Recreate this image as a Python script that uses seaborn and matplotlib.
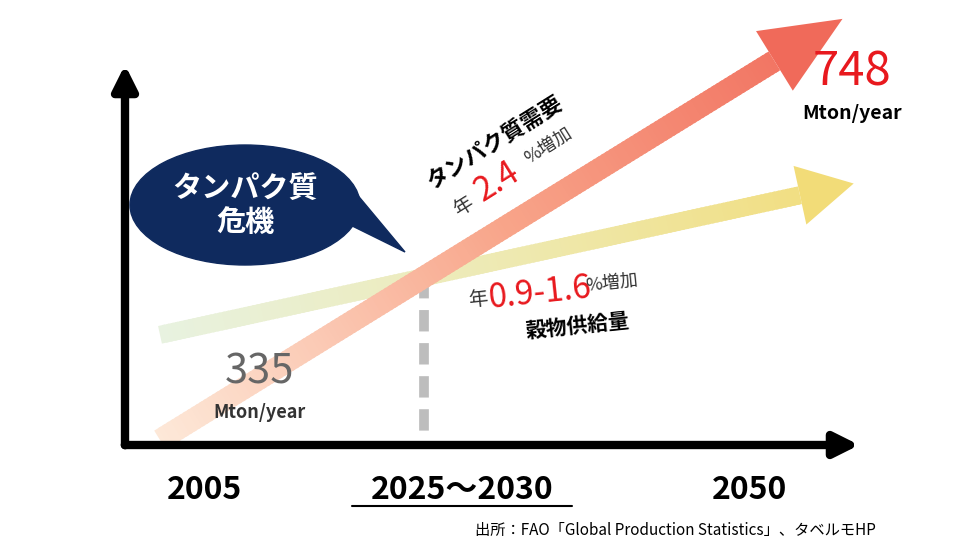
import numpy as np
import matplotlib
matplotlib.use("Agg")
import matplotlib.pyplot as plt
import seaborn as sns
from matplotlib.collections import LineCollection
from matplotlib.colors import LinearSegmentedColormap
from matplotlib.patches import Polygon, Ellipse

sns.set_theme(style="white")
plt.rcParams['font.family'] = ['Noto Sans CJK JP', 'DejaVu Sans']

# data
years = [2005, 2050]
protein_demand = [335, 748]      # Mton/year
grain_supply = [445, 591]        # relative level of supply trend
tick_labels = ["2005", "2025〜2030", "2050"]

fig = plt.figure(figsize=(9.8, 5.55), dpi=100)
ax = fig.add_axes([0, 0, 1, 1])
ax.set_xlim(1993.75, 2062.66)
ax.set_ylim(214.7, 795.2)
ax.axis("off")

def p2d(px, py):
    return ax.transData.inverted().transform((px, 555 - py))

def d2p(x, y):
    dx, dy = ax.transData.transform((x, y))
    return dx, 555 - dy

def grad_arrow(x0, y0, x1, y1, cmap, width_px, head_w, head_l, ext, headcol):
    p0 = np.array(d2p(x0, y0)); p1 = np.array(d2p(x1, y1))
    d = (p1 - p0) / np.linalg.norm(p1 - p0)
    tip = p1 + d * ext
    base = tip - d * head_l
    nrm = np.array([-d[1], d[0]])
    n = 150
    ts = np.linspace(0, 1, n + 1)
    for i in range(n):
        a = p0 + (base - p0) * ts[i]
        b = p0 + (base - p0) * min(ts[i + 1] + 0.004, 1)
        quad = [a + nrm * width_px / 2, b + nrm * width_px / 2,
                b - nrm * width_px / 2, a - nrm * width_px / 2]
        ax.add_patch(Polygon([p2d(*p) for p in quad], closed=True,
                             color=cmap(ts[i] * 0.9), lw=0, zorder=2))
    poly = [tip, base + nrm * head_w / 2, base - nrm * head_w / 2]
    ax.add_patch(Polygon([p2d(*p) for p in poly], closed=True, color=headcol, lw=0, zorder=2))

green = LinearSegmentedColormap.from_list("g", ["#e8f2e0", "#eee9b0", "#f2dc78"])
red = LinearSegmentedColormap.from_list("r", ["#fde8d8", "#f8a58a", "#f06a5a"])
grad_arrow(years[0], grain_supply[0], years[1], grain_supply[1], green, 18, 60, 55, 55, "#f2dc78")
grad_arrow(years[0], protein_demand[0], years[1], protein_demand[1], red, 22, 70, 80, 50, "#f06a5a")

# crossing point
sr = (protein_demand[1] - protein_demand[0]) / (years[1] - years[0])
sg = (grain_supply[1] - grain_supply[0]) / (years[1] - years[0])
xc = years[0] + (grain_supply[0] - protein_demand[0]) / (sr - sg)
yc = protein_demand[0] + sr * (xc - years[0])
ax.plot([xc, xc], [yc, p2d(0, 445)[1]], color="#bdbdbd", lw=7, ls=(0, (2.2, 1.2)), zorder=1)

# axes arrows
ax.annotate("", xy=p2d(125, 62), xytext=p2d(125, 448),
            arrowprops=dict(arrowstyle="-|>,head_length=1.2,head_width=0.6", color="black", lw=6))
ax.annotate("", xy=p2d(862, 445), xytext=p2d(122, 445),
            arrowprops=dict(arrowstyle="-|>,head_length=1.2,head_width=0.6", color="black", lw=6))

# speech bubble
cx, cy = p2d(245, 205)
w = abs(p2d(230, 0)[0] - p2d(0, 0)[0]); h = abs(p2d(0, 120)[1] - p2d(0, 0)[1])
ax.add_patch(Ellipse((cx, cy), w, h, color="#0f2a5e", zorder=5))
ax.add_patch(Polygon([p2d(330, 215), p2d(405, 252), p2d(345, 180)], color="#0f2a5e", zorder=5))
ax.text(*p2d(245, 205), "タンパク質\n危機", color="white", fontsize=21, fontweight="bold",
        ha="center", va="center", zorder=6, linespacing=1.2)

# values
ax.text(*p2d(852, 72), f"{protein_demand[1]}", color="#e8191e", fontsize=34, ha="center", va="center")
ax.text(*p2d(852, 113), "Mton/year", color="black", fontsize=14, fontweight="bold", ha="center", va="center")
ax.text(*p2d(260, 372), f"{protein_demand[0]}", color="#666666", fontsize=30, ha="center", va="center")
ax.text(*p2d(260, 413), "Mton/year", color="#333333", fontsize=13, fontweight="bold", ha="center", va="center")

# protein demand label (rotated)
rot = 32
ax.text(*p2d(495, 142), "タンパク質需要", fontsize=16, fontweight="bold", rotation=rot,
        ha="center", va="center", color="black")
ax.text(*p2d(463, 206), "年", fontsize=14, rotation=rot, ha="center", va="center", color="#333333")
ax.text(*p2d(497, 182), "2.4", fontsize=24, rotation=rot, ha="center", va="center", color="#e8191e")
ax.text(*p2d(548, 146), "%増加", fontsize=13, rotation=rot, ha="center", va="center", color="#333333")

# grain supply label
ax.text(*p2d(478, 300), "年", fontsize=14, ha="center", va="center", color="#333333", rotation=6)
ax.text(*p2d(540, 293), "0.9-1.6", fontsize=24, ha="center", va="center", color="#e8191e", rotation=6)
ax.text(*p2d(612, 283), "%増加", fontsize=13, ha="center", va="center", color="#333333", rotation=6)
ax.text(*p2d(578, 326), "穀物供給量", fontsize=15, fontweight="bold", ha="center", va="center",
        color="black", rotation=6)

# x labels
for lab, px in zip(tick_labels, [205, 462, 750]):
    ax.text(*p2d(px, 490), lab, fontsize=23, fontweight="bold", ha="center", va="center", color="black")
ax.plot([p2d(352, 0)[0], p2d(572, 0)[0]], [p2d(0, 506)[1]] * 2, color="black", lw=1.5)

ax.text(*p2d(675, 530), "出所：FAO「Global Production Statistics」、タベルモHP", fontsize=11,
        ha="center", va="center", color="black")

fig.savefig("out.png", dpi=100)
